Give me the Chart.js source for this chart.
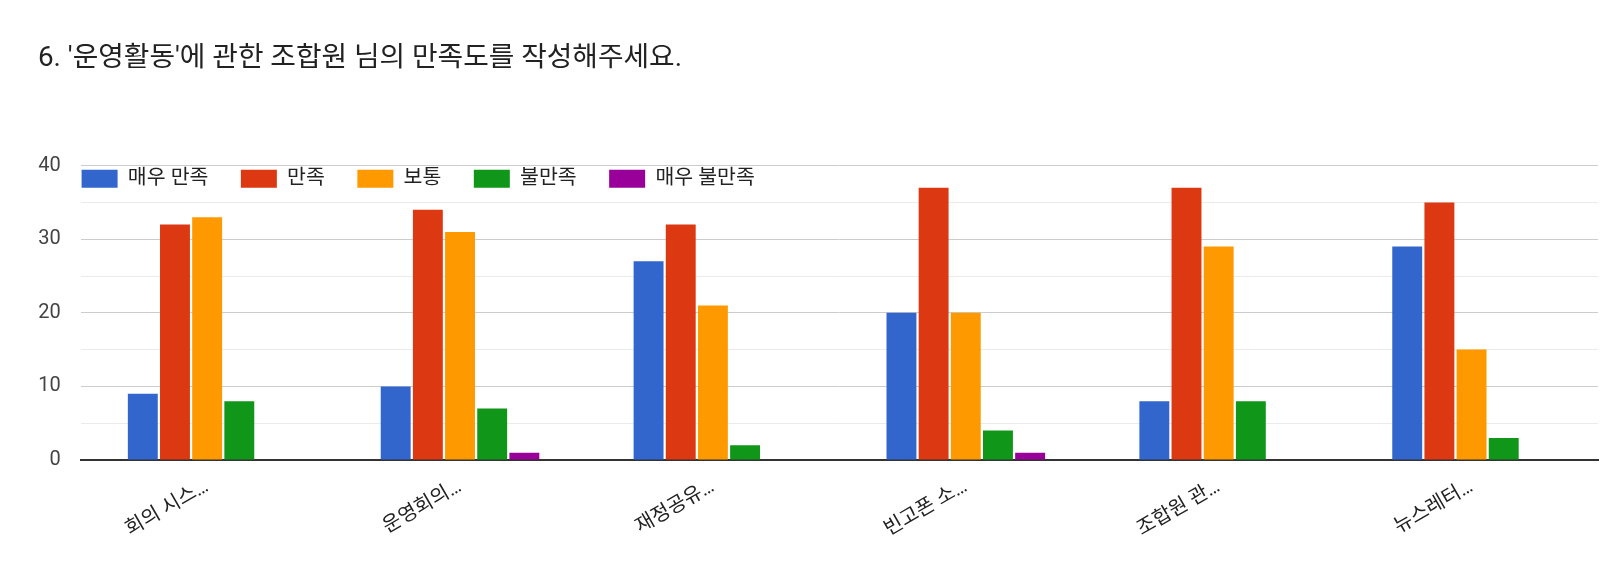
<!DOCTYPE html>
<html>
<head>
<meta charset="utf-8">
<script src="https://cdn.jsdelivr.net/npm/chart.js@4"></script>
<style>
  html, body { margin: 0; padding: 0; background: #fff; }
  #wrap { width: 1600px; height: 579px; position: relative; }
</style>
</head>
<body>
<div id="wrap"><canvas id="c"></canvas></div>
<script>
const titleText = "6. '운영활동'에 관한 조합원 님의 만족도를 작성해주세요.";
const categories = ['회의 시스…', '운영회의…', '재정공유…', '빈고폰 소…', '조합원 관…', '뉴스레터…'];
const seriesNames = ['매우 만족', '만족', '보통', '불만족', '매우 불만족'];
const verySatisfied    = [9, 10, 27, 20, 8, 29];
const satisfied        = [32, 34, 32, 37, 37, 35];
const neutral          = [33, 31, 21, 20, 29, 15];
const dissatisfied     = [8, 7, 2, 4, 8, 3];
const veryDissatisfied = [0, 1, 0, 1, 0, 0];
const yMin = 0, yMax = 40, yStep = 5, yLabelStep = 10;

const colors = ['#3366cc', '#dc3912', '#ff9900', '#109618', '#990099'];
const seriesValues = [verySatisfied, satisfied, neutral, dissatisfied, veryDissatisfied];
const FONT = "Roboto, 'Noto Sans CJK KR', sans-serif";

const LEG_PAD = 32.5;
const legendPlugin = {
  id: 'legendPlace',
  beforeInit(chart) {
    const orig = chart.legend.fit;
    chart.legend.fit = function () {
      orig.bind(chart.legend)();
      this.height = 0;
    };
  },
  afterLayout(chart) {
    const lg = chart.legend;
    lg.left = 81.6 - LEG_PAD;
    lg.top = 168.5 - LEG_PAD;
    lg.right = 1600;
    lg.bottom = lg.top + 2 * LEG_PAD + 30;
    lg.width = lg.right - lg.left;
    lg.height = lg.bottom - lg.top;
  }
};

new Chart(document.getElementById('c'), {
  type: 'bar',
  data: {
    labels: categories,
    datasets: seriesNames.map((n, i) => ({
      label: n,
      data: seriesValues[i],
      backgroundColor: colors[i],
      borderWidth: 0,
      categoryPercentage: 0.636,
      barPercentage: 0.93
    }))
  },
  plugins: [legendPlugin],
  options: {
    responsive: true,
    maintainAspectRatio: false,
    animation: false,
    layout: { padding: { left: 38, right: 2, top: 0, bottom: 0 } },
    plugins: {
      title: {
        display: true,
        text: titleText,
        align: 'start',
        color: '#222',
        font: { family: FONT, size: 27.8, weight: 'normal', lineHeight: 1.2 },
        padding: { top: 42, bottom: 90.3 }
      },
      legend: {
        display: true,
        position: 'top',
        align: 'start',
        labels: {
          boxWidth: 36,
          boxHeight: 18,
          padding: LEG_PAD,
          color: '#222',
          font: { family: FONT, size: 20.5 }
        }
      },
      tooltip: { enabled: false }
    },
    scales: {
      x: {
        grid: { display: false },
        border: { display: true, color: '#333', width: 2 },
        ticks: {
          color: '#222',
          font: { family: FONT, size: 20 },
          maxRotation: 30,
          minRotation: 30,
          padding: 7,
          autoSkip: false
        },
        afterFit(axis) { axis.height = 119; }
      },
      y: {
        min: yMin,
        max: yMax,
        border: { display: false },
        grid: {
          drawTicks: false,
          color: (ctx) => {
            const v = ctx.tick.value;
            if (v === 0) return 'rgba(0,0,0,0)';
            return v % yLabelStep === 0 ? '#cccccc' : '#ebebeb';
          },
          lineWidth: 1
        },
        ticks: {
          stepSize: yStep,
          padding: 20,
          color: '#444',
          font: { family: FONT, size: 20 },
          callback: (v) => (v % yLabelStep === 0 ? String(v) : '')
        },
        afterFit(axis) { axis.width = 42.7; }
      }
    }
  }
});
</script>
</body>
</html>
